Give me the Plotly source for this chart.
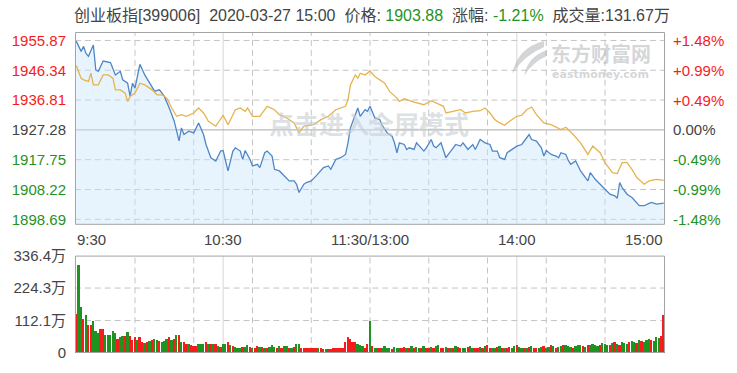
import plotly.graph_objects as go

# ---------------- data ----------------
title_name = "创业板指[399006]"
title_time = "2020-03-27 15:00"
last_price = "1903.88"
last_change = "-1.21%"
last_volume = "131.67万"

prev_close = 1927.28
price_ticks = [1898.69, 1908.22, 1917.75, 1927.28, 1936.81, 1946.34, 1955.87]
pct_ticks = ["-1.48%", "-0.99%", "-0.49%", "0.00%", "+0.49%", "+0.99%", "+1.48%"]
vol_ticks = [0, 112.1, 224.3, 336.4]
vol_tick_text = ["0", "112.1万", "224.3万", "336.4万"]
time_labels = ["9:30", "10:30", "11:30/13:00", "14:00", "15:00"]
time_label_minutes = [0, 60, 120, 180, 240]

# minute index since 9:30 (lunch break removed) and index value
price_t = [0, 2, 3, 4, 5, 7, 8, 9, 11, 13, 14, 16, 18, 19, 21, 22, 23, 24, 26, 28,
           30, 32, 34, 36, 38, 40, 42, 43, 44, 46, 48, 50, 52, 53, 55, 57, 59, 60, 62, 64,
           65, 67, 68, 69, 71, 72, 74, 75, 77, 78, 80, 81, 83, 85, 87, 89, 90, 91, 93, 94,
           96, 98, 100, 101, 103, 104, 105, 106, 108, 110, 111, 112, 114, 115, 116, 118, 119, 120, 122, 124,
           125, 127, 129, 130, 131, 132, 134, 135, 136, 138, 139, 141, 142, 143, 145, 146, 147, 149, 150, 151,
           153, 155, 157, 158, 160, 162, 163, 165, 167, 169, 170, 172, 173, 175, 176, 178, 180, 182, 184, 185,
           186, 188, 190, 191, 192, 194, 196, 197, 198, 200, 201, 202, 204, 206, 208, 209, 210, 212, 214, 216,
           218, 220, 221, 222, 223, 225, 227, 230, 232, 234, 235, 237, 240]
price_v = [1955.65, 1952.38, 1953.97, 1951.74, 1950.79, 1954.38, 1946.44, 1946.02, 1949.30, 1948.88,
           1948.79, 1944.85, 1946.02, 1943.26, 1942.21, 1938.08, 1942.21, 1940.62, 1948.25, 1944.85,
           1942.21, 1939.67, 1940.08, 1937.99, 1934.27, 1930.14, 1923.79, 1927.92, 1925.79, 1926.87,
           1926.33, 1929.50, 1925.79, 1922.61, 1918.38, 1917.34, 1920.51, 1920.70, 1914.16, 1920.51,
           1921.56, 1920.51, 1917.84, 1920.70, 1917.84, 1915.75, 1916.26, 1915.21, 1919.97, 1920.51,
           1918.92, 1914.67, 1914.16, 1912.57, 1910.98, 1910.98, 1909.90, 1907.26, 1909.90, 1910.44,
           1910.98, 1912.57, 1914.16, 1915.21, 1915.75, 1914.67, 1916.26, 1917.84, 1918.38, 1919.43,
           1923.15, 1927.92, 1932.14, 1934.27, 1931.63, 1933.73, 1933.22, 1934.81, 1931.09, 1930.55,
           1928.71, 1926.33, 1925.28, 1923.15, 1919.97, 1923.15, 1922.61, 1921.02, 1921.56, 1921.02,
           1923.15, 1921.56, 1920.51, 1921.56, 1924.20, 1922.10, 1921.56, 1923.15, 1921.02, 1918.38,
           1920.51, 1922.61, 1922.10, 1923.15, 1921.02, 1922.61, 1921.02, 1924.20, 1923.15, 1922.61,
           1920.51, 1920.51, 1918.38, 1917.84, 1919.97, 1921.02, 1922.10, 1922.61, 1924.74, 1925.79,
           1924.20, 1923.69, 1921.56, 1918.92, 1920.70, 1919.43, 1918.92, 1918.38, 1919.97, 1919.43,
           1917.53, 1916.26, 1917.34, 1914.16, 1912.03, 1910.98, 1913.62, 1911.49, 1909.90, 1908.31,
           1906.73, 1906.22, 1905.45, 1910.44, 1908.85, 1906.73, 1905.68, 1903.04, 1903.04, 1903.77,
           1904.09, 1903.55, 1903.88]

avg_t = [0, 2, 3, 5, 6, 7, 9, 11, 13, 15, 16, 18, 20, 21, 22, 24, 26, 28, 31, 33,
         35, 37, 39, 41, 43, 45, 48, 50, 52, 54, 57, 59, 60, 62, 65, 67, 69, 70, 72, 75,
         78, 81, 83, 86, 89, 91, 93, 97, 100, 103, 106, 110, 111, 112, 114, 115, 116, 118, 120, 122,
         124, 126, 128, 131, 132, 134, 138, 142, 145, 147, 150, 151, 154, 157, 159, 162, 165, 167, 169, 171,
         173, 175, 177, 180, 182, 184, 186, 188, 191, 194, 198, 200, 203, 206, 209, 211, 214, 216, 219, 221,
         223, 225, 227, 229, 232, 234, 237, 240]
avg_v = [1947.84, 1943.80, 1943.26, 1942.75, 1945.39, 1941.67, 1941.67, 1944.85, 1944.85, 1943.80,
         1940.08, 1940.08, 1939.03, 1936.40, 1937.99, 1939.03, 1942.21, 1941.67, 1940.08, 1938.49,
         1938.49, 1937.45, 1934.27, 1931.63, 1932.14, 1931.63, 1932.68, 1934.27, 1932.68, 1930.04,
         1928.46, 1930.55, 1931.90, 1928.90, 1933.73, 1934.27, 1933.22, 1934.27, 1931.63, 1931.63,
         1934.81, 1933.73, 1932.14, 1931.09, 1929.50, 1926.33, 1928.46, 1928.96, 1930.55, 1931.63,
         1933.73, 1934.81, 1936.91, 1941.67, 1944.85, 1943.80, 1945.39, 1944.85, 1946.12, 1944.34,
         1943.26, 1942.21, 1939.57, 1937.45, 1936.40, 1937.22, 1936.18, 1935.32, 1936.59, 1935.86,
         1934.81, 1932.68, 1933.22, 1933.73, 1932.68, 1933.22, 1933.41, 1934.27, 1932.68, 1930.55,
         1929.50, 1928.77, 1930.04, 1931.63, 1931.95, 1933.73, 1934.59, 1932.14, 1929.50, 1928.96,
         1927.38, 1928.14, 1925.79, 1923.15, 1919.43, 1922.10, 1919.97, 1916.80, 1913.62, 1913.30,
         1916.80, 1916.80, 1914.67, 1912.03, 1909.90, 1910.98, 1911.49, 1911.17]

# volume per minute (万), minute 0..240
vol = [135, 305, 160, 120, 131, 97, 97, 112, 77, 69,
       83, 83, 63, 62, 62, 78, 69, 51, 57, 60,
       60, 74, 60, 46, 57, 46, 57, 40, 37, 38,
       42, 46, 49, 46, 42, 40, 42, 49, 56, 46,
       49, 65, 65, 40, 38, 34, 31, 29, 26, 26,
       31, 32, 34, 38, 34, 32, 32, 32, 26, 23,
       32, 34, 40, 29, 25, 23, 20, 20, 23, 23,
       29, 23, 20, 20, 25, 23, 23, 20, 20, 23,
       29, 23, 20, 25, 20, 24, 25, 20, 20, 23,
       34, 31, 19, 17, 17, 17, 19, 17, 19, 17,
       17, 15, 14, 14, 15, 19, 19, 17, 17, 17,
       38, 57, 49, 38, 38, 34, 29, 25, 20, 32,
       111, 25, 20, 20, 17, 20, 25, 20, 17, 14,
       23, 20,
       20, 17, 23, 20, 17, 25, 20, 23, 17, 20,
       25, 20, 17, 23, 20, 25, 28, 20, 17, 23,
       20, 17, 20, 25, 23, 20, 17, 20, 23, 25,
       20, 17, 20, 23, 20, 25, 28, 20, 17, 20,
       23, 25, 20, 17, 20, 23, 20, 25, 28, 23,
       20, 17, 20, 23, 25, 20, 17, 20, 23, 25,
       20, 23, 28, 25, 20, 23, 25, 30, 28, 25,
       23, 20, 25, 28, 30, 25, 23, 28, 30, 32,
       28, 25, 30, 35, 32, 28, 30, 35, 38, 33,
       30, 40, 35, 32, 38, 42, 40, 35, 45, 42,
       38, 45, 50, 48, 42, 55, 52, 60, 134]
# r = up minute, g = down minute
vol_dir = ("rggrgrrggg" "rrgggggrgg" "rgrrrgrrgr" "grggrgggrg" "rgrgrrgrrr"
           "gggrgrgrgr" "ggrgrgggrg" "grgrrgrgrg" "ggrgrggrgr" "ggrrrrrrrg"
           "rrgrrrrrrr" "rrrrrgggrr" "grggrggggr" "gg"
           "grrgrgrggr" "grrgrggrrg" "rgrgrrggrg" "grrgrgrrgg" "rgrgrrggrg"
           "grgrgrrggr" "ggrgrggrgg" "grgggrgrgg" "ggrgggrgrg" "rgggrggrgr"
           "gggrgggrr")
vol_t = list(range(len(vol)))

# ---------------- style ----------------
RED = "#f61c1c"
GREEN = "#1f931f"
GREY = "#444444"
FONT = "Arial, 'Liberation Sans', 'Noto Sans CJK SC', sans-serif"
GRID = "#c4c4c4"
FRAME = "#a3a3a3"
WM = "rgba(175,178,182,0.55)"


def col(text, c):
    return f'<span style="color:{c}">{text}</span>'


def tick_color(v):
    if v > prev_close + 0.01:
        return RED
    if v < prev_close - 0.01:
        return GREEN
    return GREY


price_text = [col(f"{v:.2f}", tick_color(v)) for v in price_ticks]

bar_colors = [RED if d == "r" else GREEN for d in vol_dir[:len(vol)]]

fig = go.Figure()
fig.add_trace(go.Scatter(x=price_t, y=price_v, mode="lines",
                         line=dict(color="#4f86c6", width=1.3),
                         fill="tozeroy", fillcolor="rgba(205,231,251,0.45)",
                         xaxis="x", yaxis="y", hoverinfo="skip", showlegend=False))
fig.add_trace(go.Scatter(x=avg_t, y=avg_v, mode="lines",
                         line=dict(color="#e6b34e", width=1.3),
                         xaxis="x", yaxis="y", hoverinfo="skip", showlegend=False))
fig.add_trace(go.Bar(x=vol_t, y=vol, marker=dict(color=bar_colors, line=dict(width=0)),
                     width=0.72, xaxis="x2", yaxis="y2", hoverinfo="skip", showlegend=False))

W, H = 737, 373
ML, MR, MT, MB = 70, 72, 32, 18
PH = H - MT - MB
PW = W - ML - MR


def py(pix):  # pixel row -> paper y
    return (H - MB - pix) / PH


def px(pix):  # pixel column -> paper x
    return (pix - ML) / PW


# prev close sits on pixel row 130.5 so that every 30px grid row is crisp
PX_PER_PT = 9.53 / 30
y_lo = prev_close + (130.5 - 226) * PX_PER_PT
y_hi = prev_close + (130.5 - 32) * PX_PER_PT
v_hi = 336.4
xr = [-0.5, 240.5]
grid_x = [24, 48, 72, 96, 120, 144, 168, 192, 216]

axis_common = dict(showline=False, zeroline=False, fixedrange=True, showgrid=False)
ytick = dict(ticks="outside", ticklen=5, tickcolor="rgba(0,0,0,0)")

fig.update_layout(
    width=W, height=H,
    margin=dict(l=ML, r=MR, t=MT, b=MB, pad=0),
    paper_bgcolor="white", plot_bgcolor="white",
    font=dict(family=FONT, size=15, color=GREY),
    bargap=0,
    xaxis=dict(domain=[0, 1], anchor="y", range=xr, showticklabels=False, ticks="", **axis_common),
    yaxis=dict(domain=[py(226), 1], anchor="x", range=[y_lo, y_hi], tickvals=price_ticks,
               ticktext=price_text, **ytick, **axis_common),
    xaxis2=dict(domain=[0, 1], anchor="y2", range=xr, showticklabels=False, ticks="", **axis_common),
    yaxis2=dict(domain=[0, py(257)], anchor="x2", range=[0, v_hi], tickvals=vol_ticks,
                ticktext=vol_tick_text, tickfont=dict(color=GREY), **ytick, **axis_common),
)

shapes = []

# dashed grid built from short solid strokes (6px on, 4px off)
MIN_PER_PX = (xr[1] - xr[0]) / PW
VOL_PER_PX = v_hi / 98


def dashes(a0, a1, on, off):
    out = []
    a = a0
    while a < a1:
        out.append((a, min(a + on, a1)))
        a += on + off
    return out


def hdash(xax, yax, v, on, off):
    segs = " ".join(f"M{a:.3f},{v} L{b:.3f},{v}" for a, b in dashes(xr[0], xr[1], on, off))
    return dict(type="path", xref=xax, yref=yax, path=segs,
                line=dict(color=GRID, width=1), layer="below")


def vdash(xax, yax, m, lo, hi, on, off):
    segs = " ".join(f"M{m},{a:.3f} L{m},{b:.3f}" for a, b in dashes(lo, hi, on, off))
    return dict(type="path", xref=xax, yref=yax, path=segs,
                line=dict(color=GRID, width=1), layer="below")


for v in price_ticks:
    if abs(v - prev_close) > 0.01:
        shapes.append(hdash("x", "y", v, 6 * MIN_PER_PX, 4 * MIN_PER_PX))
for v in vol_ticks[1:3]:
    shapes.append(hdash("x2", "y2", v, 6 * MIN_PER_PX, 4 * MIN_PER_PX))
for m in grid_x:
    shapes.append(vdash("x", "y", m, y_lo, y_hi, 6 * PX_PER_PT, 4 * PX_PER_PT))
    shapes.append(vdash("x2", "y2", m, 0, v_hi, 6 * VOL_PER_PX, 4 * VOL_PER_PX))
# solid hour lines at 10:30 and 14:00
for m in (60, 180):
    for xa, ya in (("x", "y"), ("x2", "y2")):
        shapes.append(dict(type="line", xref=xa, yref=f"{ya} domain", x0=m, x1=m, y0=0, y1=1,
                           line=dict(color="#d6d6d6", width=1), layer="below"))
# solid previous-close line
shapes.append(dict(type="line", xref="x domain", yref="y", x0=0, x1=1, y0=prev_close, y1=prev_close,
                   line=dict(color="#a8a8a8", width=1), layer="below"))
# panel frames, offset half a pixel so they stay crisp
for xd, yd, hpx in (("x", "y", 194), ("x2", "y2", 98)):
    shapes.append(dict(type="rect", xref=f"{xd} domain", yref=f"{yd} domain",
                       x0=0.5 / PW, x1=1 - 0.5 / PW, y0=0.5 / hpx, y1=1 - 0.5 / hpx,
                       line=dict(color=FRAME, width=1), fillcolor="rgba(0,0,0,0)", layer="above"))


def pth(points):
    segs = []
    for cmd, pts in points:
        coords = " ".join(f"{px(a):.4f},{py(b):.4f}" for a, b in pts)
        segs.append(f"{cmd} {coords}")
    return " ".join(segs) + " Z"


# logo swoosh (watermark)
swooshes = [
    [("M", [(543, 41)]), ("Q", [(516, 48), (511, 74)]), ("Q", [(522, 56), (543, 47)])],
    [("M", [(546, 50)]), ("Q", [(526, 57), (523, 76)]), ("Q", [(531, 63), (546, 56)])],
]
for s in swooshes:
    shapes.append(dict(type="path", xref="paper", yref="paper", path=pth(s),
                       fillcolor=WM, line=dict(width=0), layer="above"))
fig.update_layout(shapes=shapes)

ann = []
# right-hand percentage labels
for v, p in zip(price_ticks, pct_ticks):
    ann.append(dict(text=p, xref="paper", yref="y", x=1, y=v, xanchor="left", yanchor="middle",
                    xshift=6, showarrow=False, font=dict(size=15, color=tick_color(v), family=FONT)))
sp = "&nbsp;&nbsp;"
header = (f"{title_name}{sp}{title_time}{sp}价格: {col(last_price, GREEN)}"
          f"{sp}涨幅: {col(last_change, GREEN)}{sp}成交量:{last_volume}")
ann.append(dict(text=header, xref="paper", yref="paper", x=px(370), y=py(15),
                xanchor="center", yanchor="middle", showarrow=False,
                font=dict(size=16, color=GREY, family=FONT)))
anchors = ["left", "center", "center", "center", "right"]
for lab, m, a in zip(time_labels, time_label_minutes, anchors):
    xx = xr[0] if a == "left" else (xr[1] if a == "right" else m)
    ann.append(dict(text=lab, xref="x", yref="paper", x=xx, y=py(241), xanchor=a,
                    yanchor="middle", showarrow=False, font=dict(size=15, color=GREY, family=FONT)))
# watermarks
ann.append(dict(text="<b>点击进入全屏模式</b>", xref="paper", yref="paper", x=px(366), y=py(124),
                xanchor="center", yanchor="middle", showarrow=False,
                font=dict(size=25, color="rgba(200,205,210,0.6)", family="'Noto Sans CJK SC'")))
ann.append(dict(text="<b>东方财富网</b>", xref="paper", yref="paper", x=px(600), y=py(54),
                xanchor="center", yanchor="middle", showarrow=False,
                font=dict(size=20, color=WM, family="'Noto Sans CJK SC'")))
ann.append(dict(text="<b>eastmoney.com</b>", xref="paper", yref="paper", x=px(600), y=py(75),
                xanchor="center", yanchor="middle", showarrow=False,
                font=dict(size=11, color=WM, family="'DejaVu Sans'")))
fig.update_layout(annotations=ann)

fig.write_html("out.html")
